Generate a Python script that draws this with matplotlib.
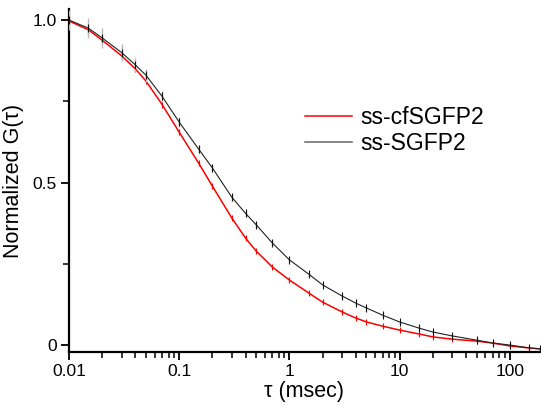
import numpy as np
import matplotlib.pyplot as plt
from matplotlib.lines import Line2D
from matplotlib.ticker import FixedLocator, FixedFormatter

plt.rcParams['font.family'] = ['Liberation Sans', 'DejaVu Sans']

# tau (msec) y curvas normalizadas
tau = [0.01, 0.015, 0.02, 0.03, 0.04, 0.05, 0.07, 0.1, 0.15, 0.2, 0.3, 0.4, 0.5, 0.7,
       1, 1.5, 2, 3, 4, 5, 7, 10, 15, 20, 30, 50, 70, 100, 150, 188]

g_sgfp2 = [1.000, 0.975, 0.945, 0.900, 0.862, 0.830, 0.765, 0.686, 0.603, 0.545,
           0.455, 0.405, 0.370, 0.314, 0.262, 0.218, 0.185, 0.151, 0.129, 0.114,
           0.092, 0.071, 0.052, 0.040, 0.028, 0.015, 0.006, 0.000, -0.009, -0.012]
err_sgfp2 = [0.030, 0.030, 0.030, 0.026, 0.022, 0.020, 0.018, 0.015, 0.013, 0.012,
             0.011, 0.010, 0.009, 0.009, 0.008, 0.008, 0.007, 0.007, 0.006, 0.006,
             0.006, 0.005, 0.005, 0.005, 0.005, 0.004, 0.004, 0.004, 0.004, 0.004]

g_cfsgfp2 = [0.997, 0.970, 0.938, 0.890, 0.850, 0.812, 0.740, 0.655, 0.560, 0.489,
             0.391, 0.329, 0.289, 0.240, 0.200, 0.160, 0.132, 0.102, 0.083, 0.071,
             0.058, 0.046, 0.034, 0.025, 0.018, 0.012, 0.006, -0.003, -0.009, -0.012]
err_cfsgfp2 = [0.015, 0.014, 0.013, 0.012, 0.011, 0.010, 0.009, 0.008, 0.007, 0.007,
               0.006, 0.006, 0.006, 0.005, 0.005, 0.005, 0.005, 0.004, 0.004, 0.004,
               0.004, 0.004, 0.004, 0.004, 0.004, 0.004, 0.004, 0.004, 0.004, 0.004]

etiquetas = ['ss-cfSGFP2', 'ss-SGFP2']

fig = plt.figure(figsize=(5.41, 4.07), dpi=100)
ax = fig.add_axes([69 / 541, 1 - 352 / 407, 471 / 541, 343 / 407])

# curva roja (cfSGFP2)
ax.errorbar(tau, g_cfsgfp2, yerr=err_cfsgfp2, color='#ff0000', lw=1.1,
            ecolor='#ffaaaa', elinewidth=1.0, capsize=0, marker='|',
            markersize=5, mew=0.8, mec='#ff0000', zorder=3)
# curva negra (SGFP2)
ax.errorbar(tau, g_sgfp2, yerr=err_sgfp2, color='#222222', lw=0.8,
            ecolor='#bbbbbb', elinewidth=1.0, capsize=0, marker='|',
            markersize=6, mew=0.8, mec='#111111', zorder=4)

ax.set_xscale('log')
ax.set_xlim(0.01, 188)
ax.set_ylim(-0.0215, 1.034)

ax.xaxis.set_major_locator(FixedLocator([0.01, 0.1, 1, 10, 100]))
ax.xaxis.set_major_formatter(FixedFormatter(['0.01', '0.1', '1', '10', '100']))
ax.yaxis.set_major_locator(FixedLocator([0, 0.5, 1.0]))
ax.yaxis.set_major_formatter(FixedFormatter(['0', '0.5', '1.0']))
ax.yaxis.set_minor_locator(FixedLocator([0.25, 0.75]))

for lado in ['top', 'right']:
    ax.spines[lado].set_visible(False)
for lado in ['left', 'bottom']:
    ax.spines[lado].set_linewidth(1.6)

ax.tick_params(axis='both', which='major', direction='out', length=6, width=1.3,
               labelsize=12.5, pad=3)
ax.tick_params(axis='both', which='minor', direction='out', length=4, width=1.1)
ax.tick_params(axis='x', which='minor', labelbottom=False)

ax.set_xlabel('τ (msec)', fontsize=15.5, labelpad=1)
ax.set_ylabel('Normalized G(τ)', fontsize=15.5, labelpad=6)

manejadores = [Line2D([], [], color='#ff0000', lw=1.1),
               Line2D([], [], color='#666666', lw=1.1)]
ax.legend(manejadores, etiquetas, loc='center left',
          bbox_to_anchor=(305 / 541, 1 - 130.5 / 407), bbox_transform=fig.transFigure,
          frameon=False, fontsize=16.5, handlelength=2.05, handletextpad=0.35,
          labelspacing=0.1, borderpad=0, borderaxespad=0)

fig.savefig('out.png', dpi=100)
